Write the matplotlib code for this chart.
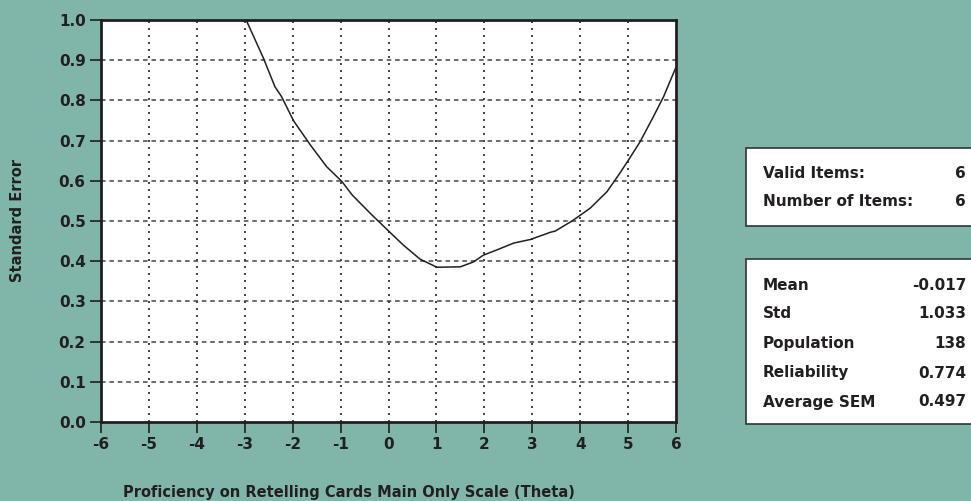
import matplotlib
matplotlib.use("Agg")
import matplotlib.pyplot as plt
from matplotlib.patches import Rectangle

# test information curve: theta vs standard error
theta = [-2.97, -2.61, -2.37, -2.23, -1.98, -1.63, -1.29, -0.97, -0.76, -0.38,
         0.02, 0.31, 0.66, 1.01, 1.50, 1.77, 1.98, 2.26, 2.61, 2.96,
         3.38, 3.48, 3.83, 4.21, 4.56, 4.80, 5.01, 5.25, 5.53, 5.74, 5.99]
std_error = [1.00, 0.905, 0.834, 0.809, 0.749, 0.689, 0.635, 0.598, 0.565, 0.519,
             0.473, 0.440, 0.405, 0.385, 0.386, 0.398, 0.415, 0.428, 0.445, 0.454,
             0.472, 0.475, 0.500, 0.532, 0.573, 0.614, 0.652, 0.697, 0.760, 0.809, 0.880]

item_labels = ["Valid Items:", "Number of Items:"]
item_values = ["6", "6"]
stat_labels = ["Mean", "Std", "Population", "Reliability", "Average SEM"]
stat_values = ["-0.017", "1.033", "138", "0.774", "0.497"]

BG = "#80b6a9"
INK = "#231f20"
W, H = 971, 501
TICK_FS = 11
LABEL_FS = 10.5
BOX_FS = 11

plt.rcParams["font.family"] = ["DejaVu Sans"]
plt.rcParams["font.weight"] = "bold"
plt.rcParams["axes.unicode_minus"] = False

fig = plt.figure(figsize=(W / 100, H / 100), dpi=100, facecolor=BG)
ax = fig.add_axes([101 / W, (H - 422) / H, 575 / W, 402 / H])
ax.set_facecolor("white")

ax.plot(theta, std_error, color=INK, lw=1.1, clip_on=True)

ax.set_xlim(-6, 6)
ax.set_ylim(0, 1)
ax.set_xticks(range(-6, 7))
ax.set_yticks([i / 10 for i in range(11)])
ax.set_yticklabels(["%.1f" % (i / 10) for i in range(11)])

for x in range(-5, 6):
    ax.axvline(x, color=INK, lw=1.2, ls=(0, (1.2, 3.0)), zorder=0.5)
for i in range(1, 10):
    ax.axhline(i / 10, color="#444444", lw=1.1, ls=(0, (3, 2.5)), zorder=0.5)

for s in ax.spines.values():
    s.set_color(INK)
    s.set_linewidth(2)

ax.tick_params(direction="out", length=8, width=1.2, color=INK,
               labelsize=TICK_FS, labelcolor=INK, pad=3)
for lbl in ax.get_xticklabels() + ax.get_yticklabels():
    lbl.set_fontweight("bold")


def fy(py):
    return 1 - py / H


fig.text(17 / W, fy(221), "Standard Error", rotation=90, ha="center", va="center",
         fontsize=LABEL_FS, fontweight="bold", color=INK)
fig.text(349 / W, fy(492), "Proficiency on Retelling Cards Main Only Scale (Theta)",
         ha="center", va="center", fontsize=LABEL_FS, fontweight="bold", color=INK)

# summary boxes
for top, bottom in [(148, 226), (259, 424)]:
    fig.patches.append(Rectangle((746 / W, fy(bottom)), 240 / W, (bottom - top) / H,
                                 transform=fig.transFigure, facecolor="white",
                                 edgecolor="#333333", lw=1.2))

for lab, val, py in zip(item_labels, item_values, [173, 202]):
    fig.text(763 / W, fy(py), lab, ha="left", va="center", fontsize=BOX_FS,
             fontweight="bold", color=INK)
    fig.text(966 / W, fy(py), val, ha="right", va="center", fontsize=BOX_FS,
             fontweight="bold", color=INK)

for lab, val, py in zip(stat_labels, stat_values, [285, 314, 343.5, 373, 402]):
    fig.text(763 / W, fy(py), lab, ha="left", va="center", fontsize=BOX_FS,
             fontweight="bold", color=INK)
    fig.text(966 / W, fy(py), val, ha="right", va="center", fontsize=BOX_FS,
             fontweight="bold", color=INK)

fig.savefig("out.png", dpi=100, facecolor=BG)
